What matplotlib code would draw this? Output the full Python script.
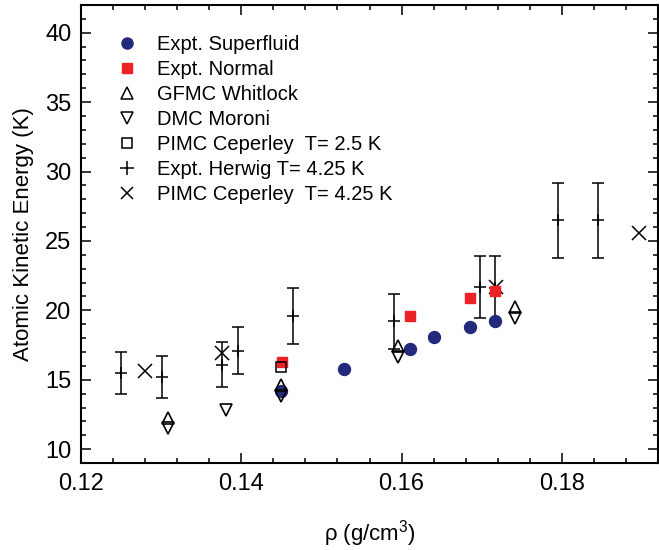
import matplotlib.pyplot as plt
from matplotlib.lines import Line2D
from matplotlib.ticker import MultipleLocator

plt.rcParams['font.family'] = ['Liberation Sans', 'DejaVu Sans']
plt.rcParams['mathtext.fontset'] = 'custom'
plt.rcParams['mathtext.rm'] = 'Liberation Sans'

# density (g/cm^3) and kinetic energy (K)
sf_rho = [0.1450, 0.1528, 0.1610, 0.1640, 0.1685, 0.1717]
sf_ke = [14.2, 15.8, 17.2, 18.1, 18.8, 19.2]

nm_rho = [0.1451, 0.1610, 0.1685, 0.1717]
nm_ke = [16.3, 19.6, 20.9, 21.4]

gfmc_rho = [0.1308, 0.1450, 0.1595, 0.1742]
gfmc_ke = [12.25, 14.6, 17.45, 20.25]

dmc_rho = [0.1308, 0.1381, 0.1450, 0.1595, 0.1742]
dmc_ke = [11.55, 12.8, 13.85, 16.65, 19.45]

p25_rho = [0.1450]
p25_ke = [15.9]

hw_rho = [0.1250, 0.1301, 0.1376, 0.1396, 0.1465, 0.1590, 0.1698, 0.1717, 0.1795, 0.1845]
hw_ke = [15.5, 15.2, 16.1, 17.1, 19.6, 19.2, 21.7, 21.6, 26.5, 26.5]
hw_err = [1.5, 1.5, 1.6, 1.7, 2.0, 1.95, 2.25, 2.3, 2.7, 2.7]

p425_rho = [0.1280, 0.1376, 0.1718, 0.1896]
p425_ke = [15.6, 16.9, 21.7, 25.6]

labels = ['Expt. Superfluid', 'Expt. Normal', 'GFMC Whitlock', 'DMC Moroni',
          'PIMC Ceperley  T= 2.5 K', 'Expt. Herwig T= 4.25 K', 'PIMC Ceperley  T= 4.25 K']

blue = '#232a7c'
red = '#ec2227'

fig = plt.figure(figsize=(6.59, 5.5), dpi=100)
ax = fig.add_axes([0.1229, 0.158, 0.8756, 0.833])

# error bars first, markers on top
ax.errorbar(hw_rho, hw_ke, yerr=hw_err, fmt='+', color='black', ms=9, mew=1.1,
            elinewidth=1.1, capsize=4.3, capthick=1.1, zorder=2)
ax.plot(p425_rho, p425_ke, 'x', color='black', ms=10, mew=1.1, zorder=2)
ax.plot(sf_rho, sf_ke, 'o', color=blue, ms=8.6, mec=blue, zorder=3)
ax.plot(nm_rho, nm_ke, 's', color=red, ms=7.6, mec=red, zorder=3)
ax.plot(p25_rho, p25_ke, 's', mfc='none', mec='black', ms=7.6, mew=1.1, zorder=4)
ax.plot(gfmc_rho, gfmc_ke, '^', mfc='none', mec='black', ms=8.5, mew=1.2, zorder=4)
ax.plot(dmc_rho, dmc_ke, 'v', mfc='none', mec='black', ms=8.5, mew=1.2, zorder=4)

handles = [
    Line2D([], [], ls='none', marker='o', color=blue, ms=8),
    Line2D([], [], ls='none', marker='s', color=red, ms=7),
    Line2D([], [], ls='none', marker='^', mfc='none', mec='black', ms=8, mew=1.1),
    Line2D([], [], ls='none', marker='v', mfc='none', mec='black', ms=8, mew=1.1),
    Line2D([], [], ls='none', marker='s', mfc='none', mec='black', ms=7, mew=1.1),
    Line2D([], [], ls='none', marker='+', color='black', ms=10, mew=1.1),
    Line2D([], [], ls='none', marker='x', color='black', ms=9, mew=1.1),
]
ax.legend(handles, labels, loc='upper left', bbox_to_anchor=(0.063, 0.935),
          frameon=False, fontsize=14.5, borderpad=0, borderaxespad=0,
          handlelength=0.95, handletextpad=1.0, labelspacing=0.3)

ax.set_xlim(0.12, 0.192)
ax.set_ylim(9, 42)
ax.xaxis.set_major_locator(MultipleLocator(0.02))
ax.xaxis.set_minor_locator(MultipleLocator(0.004))
ax.yaxis.set_major_locator(MultipleLocator(5))
ax.yaxis.set_minor_locator(MultipleLocator(1))
ax.set_xticks([0.12, 0.14, 0.16, 0.18])
ax.set_xticklabels(['0.12', '0.14', '0.16', '0.18'])

ax.tick_params(which='both', direction='in', top=True, right=True, width=1.1)
ax.tick_params(which='major', length=7, labelsize=17)
ax.tick_params(which='minor', length=3.5)
ax.tick_params(axis='x', pad=7)
ax.tick_params(axis='y', pad=7)
for s in ax.spines.values():
    s.set_linewidth(1.5)

ax.set_xlabel(r'ρ (g/cm$^{\mathrm{3}}$)', fontsize=16, labelpad=17)
ax.set_ylabel('Atomic Kinetic Energy (K)', fontsize=16, labelpad=8)

fig.savefig('out.png', dpi=100)
